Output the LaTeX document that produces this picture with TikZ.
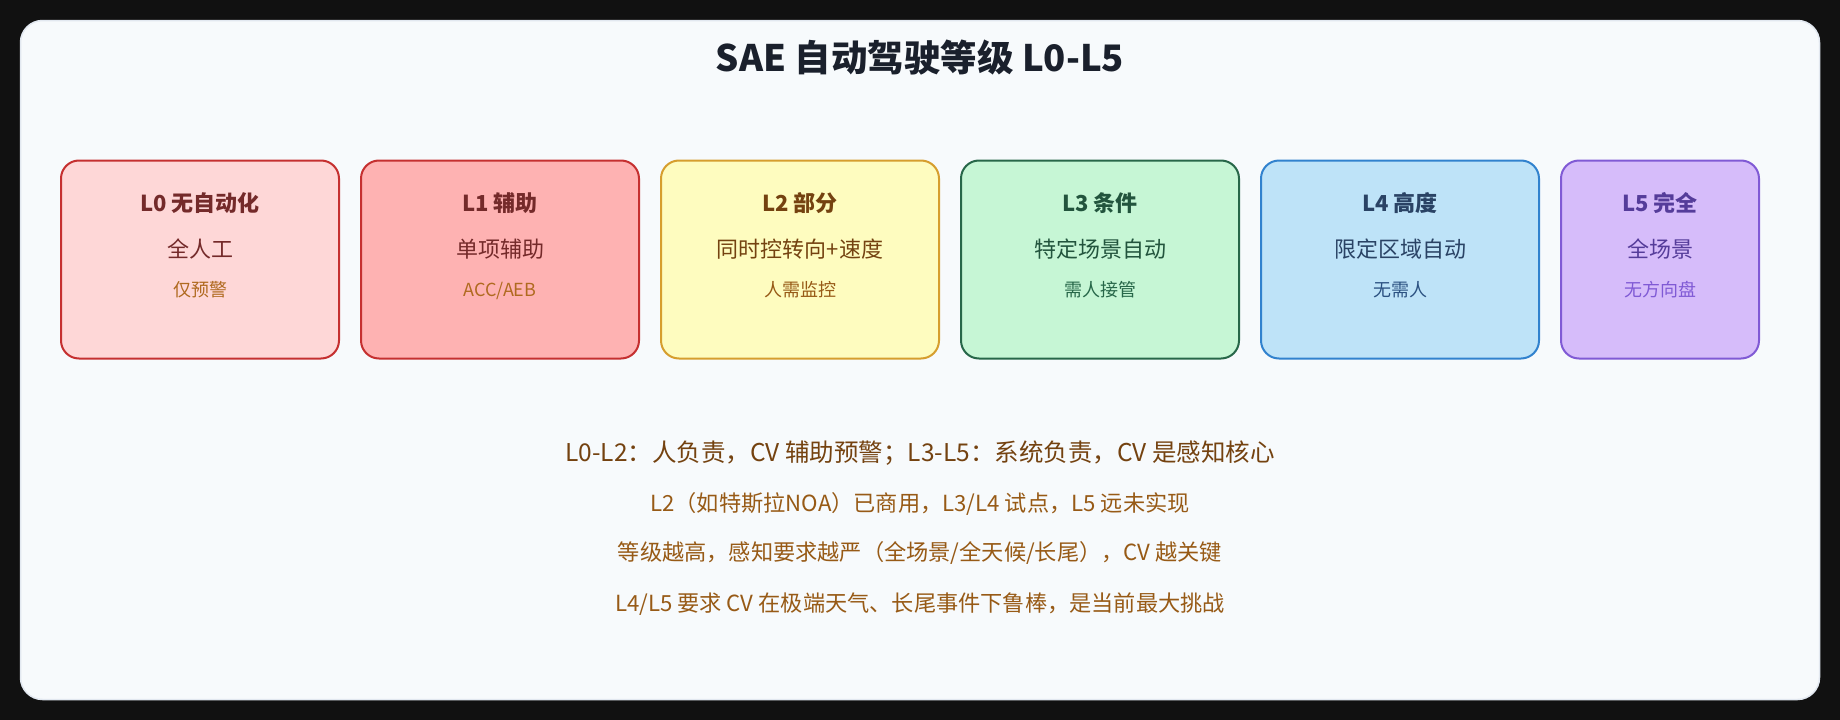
\documentclass[tikz,border=0pt]{standalone}
\usepackage{fontspec}
\setmainfont{Noto Sans CJK SC}
\definecolor{bgdark}{HTML}{111111}
\definecolor{cardbg}{HTML}{F7FAFC}
\definecolor{cardline}{HTML}{E2E8F0}
\definecolor{titlec}{HTML}{1A202C}
\definecolor{fillA}{HTML}{FED7D7}
\definecolor{fillB}{HTML}{FEB2B2}
\definecolor{fillC}{HTML}{FEFCBF}
\definecolor{fillD}{HTML}{C6F6D5}
\definecolor{fillE}{HTML}{BEE3F8}
\definecolor{fillF}{HTML}{D6BCFA}
\definecolor{lineA}{HTML}{C53030}
\definecolor{lineC}{HTML}{D69E2E}
\definecolor{lineD}{HTML}{276749}
\definecolor{lineE}{HTML}{3182CE}
\definecolor{lineF}{HTML}{805AD5}
\definecolor{txtA}{HTML}{742A2A}
\definecolor{txtC}{HTML}{744210}
\definecolor{txtD}{HTML}{22543D}
\definecolor{txtE}{HTML}{2A4365}
\definecolor{txtF}{HTML}{553C9A}
\definecolor{subA}{HTML}{B06A20}
\definecolor{subC}{HTML}{975A16}
\definecolor{subD}{HTML}{276749}
\definecolor{subE}{HTML}{2C5282}
\definecolor{subF}{HTML}{805AD5}
\definecolor{noteA}{HTML}{744210}
\definecolor{noteB}{HTML}{975A16}
\begin{document}
\begin{tikzpicture}[x=1pt,y=-1pt,
  lvbox/.style={draw, line width=2pt, rounded corners=18pt, minimum height=198pt, inner sep=0pt},
  lvtitle/.style={anchor=base, inner sep=0pt, font=\fontsize{22}{26}\selectfont\bfseries},
  lvmain/.style={anchor=base, inner sep=0pt, font=\fontsize{22}{26}\selectfont},
  lvsub/.style={anchor=base, inner sep=0pt, font=\fontsize{18}{22}\selectfont},
  notebig/.style={anchor=base, inner sep=0pt, text=noteA, font=\fontsize{24.5}{28}\selectfont},
  note/.style={anchor=base, inner sep=0pt, text=noteB, font=\fontsize{22.2}{26}\selectfont}
]
\fill[bgdark] (0,0) rectangle (1840,720);
\useasboundingbox (0,0) rectangle (1840,720);
\draw[cardline, fill=cardbg, line width=1.5pt, rounded corners=22pt] (20.5,20.5) rectangle (1819.5,699.5);

\node[anchor=base, inner sep=0pt, text=titlec, font=\fontsize{36.5}{42}\selectfont\bfseries] (title) at (920,71.5) {SAE 自动驾驶等级 L0-L5};

% boxes
\node[lvbox, fill=fillA, draw=lineA, minimum width=278pt] (b0) at (200,259.5) {};
\node[lvbox, fill=fillB, draw=lineA, minimum width=278pt] (b1) at (500,259.5) {};
\node[lvbox, fill=fillC, draw=lineC, minimum width=278pt] (b2) at (800,259.5) {};
\node[lvbox, fill=fillD, draw=lineD, minimum width=278pt] (b3) at (1100,259.5) {};
\node[lvbox, fill=fillE, draw=lineE, minimum width=278pt] (b4) at (1400,259.5) {};
\node[lvbox, fill=fillF, draw=lineF, minimum width=198pt] (b5) at (1660,259.5) {};

% L0
\node[lvtitle, text=txtA] (t0) at (200,211) {L0 无自动化};
\node[lvmain, text=txtA] (m0) at (200,257.5) {全人工};
\node[lvsub, text=subA] (s0) at (200,296.5) {仅预警};
% L1
\node[lvtitle, text=txtA] (t1) at (500,211) {L1 辅助};
\node[lvmain, text=txtA] (m1) at (500,257.5) {单项辅助};
\node[lvsub, text=subA] (s1) at (500,296.5) {ACC/AEB};
% L2
\node[lvtitle, text=txtC] (t2) at (800,211) {L2 部分};
\node[lvmain, text=txtC] (m2) at (800,257.5) {同时控转向+速度};
\node[lvsub, text=subC] (s2) at (800,296.5) {人需监控};
% L3
\node[lvtitle, text=txtD] (t3) at (1100,211) {L3 条件};
\node[lvmain, text=txtD] (m3) at (1100,257.5) {特定场景自动};
\node[lvsub, text=subD] (s3) at (1100,296.5) {需人接管};
% L4
\node[lvtitle, text=txtE] (t4) at (1400,211) {L4 高度};
\node[lvmain, text=txtE] (m4) at (1400,257.5) {限定区域自动};
\node[lvsub, text=subE] (s4) at (1400,296.5) {无需人};
% L5
\node[lvtitle, text=txtF] (t5) at (1660,211) {L5 完全};
\node[lvmain, text=txtF] (m5) at (1660,257.5) {全场景};
\node[lvsub, text=subF] (s5) at (1660,296.5) {无方向盘};

% notes
\node[notebig] (n1) at (920,461) {L0-L2：人负责，CV 辅助预警；L3-L5：系统负责，CV 是感知核心};
\node[note] (n2) at (920,511) {L2（如特斯拉NOA）已商用，L3/L4 试点，L5 远未实现};
\node[note] (n3) at (920,560.5) {等级越高，感知要求越严（全场景/全天候/长尾），CV 越关键};
\node[note] (n4) at (920,611) {L4/L5 要求 CV 在极端天气、长尾事件下鲁棒，是当前最大挑战};
\end{tikzpicture}
\end{document}
